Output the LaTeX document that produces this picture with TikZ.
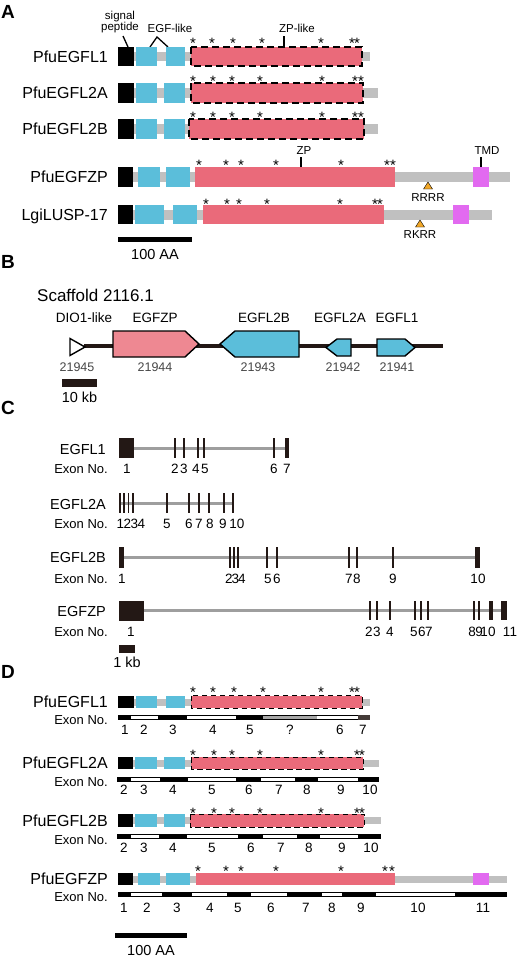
\documentclass[tikz,border=0pt]{standalone}
\usepackage{fontspec}
\setmainfont{Liberation Sans}
\definecolor{egfcyan}{RGB}{91,190,218}
\definecolor{zpred}{RGB}{234,106,122}
\definecolor{genepink}{RGB}{238,136,146}
\definecolor{linkgray}{RGB}{192,192,192}
\definecolor{tmdpink}{RGB}{226,106,240}
\definecolor{furinorange}{RGB}{242,168,40}
\definecolor{exonbrown}{RGB}{35,24,21}
\definecolor{introngray}{RGB}{158,158,158}
\definecolor{idgray}{RGB}{70,70,70}
\definecolor{unkgray}{RGB}{168,168,168}
\usetikzlibrary{positioning}
\newcommand{\fsz}[1]{\fontsize{#1}{#1}\selectfont}

\begin{document}
\begin{tikzpicture}[x=1pt, y=-1pt,
  sp/.style={fill=black},
  egf/.style={fill=egfcyan},
  zp/.style={fill=zpred},
  tmd/.style={fill=tmdpink},
  linker/.style={fill=linkgray},
  exon/.style={fill=exonbrown},
  intron/.style={draw=introngray, line width=3pt},
  dashbox/.style={draw=black, line width=1.1pt, dash pattern=on 7pt off 4pt},
  dashsmall/.style={draw=black, line width=0.9pt, dash pattern=on 5.5pt off 3.5pt},
  leader/.style={draw=black, line width=1.3pt},
  genebox/.style={draw=black, line width=1.4pt, line join=miter},
  cysmark/.style={font=\fsz{15}, inner sep=0pt, anchor=base, yshift=-8.3pt},
  panel/.style={font=\fsz{19}\bfseries, inner sep=0pt, anchor=base, yshift=-6.8pt},
  pname/.style={font=\fsz{16}, inner sep=0pt, anchor=base east, yshift=-5.7pt},
  gname/.style={font=\fsz{14.5}, inner sep=0pt, anchor=base east, yshift=-5.2pt},
  exlbl/.style={font=\fsz{13}, inner sep=0pt, anchor=base east, yshift=-4.7pt},
  exnum/.style={font=\fsz{13.5}, inner sep=0pt, anchor=base, yshift=-4.8pt},
  smalllbl/.style={font=\fsz{11.5}, inner sep=0pt, anchor=base, yshift=-4.1pt},
  glabel/.style={font=\fsz{13.5}, inner sep=0pt, anchor=base, yshift=-4.8pt},
  gid/.style={font=\fsz{12.5}, text=idgray, inner sep=0pt, anchor=base, yshift=-4.5pt},
  sbar/.style={inner sep=0pt, outer sep=0pt},
  sblbl/.style={font=\fsz{14.5}, inner sep=0pt}
]
  \useasboundingbox[fill=white] (0,0) rectangle (520,962);

  % Panel A: domain architecture
  \node[panel] (pa) at (8,12) {A};
  \node[font=\fsz{11.5}, inner sep=0pt, align=center] (sig) at (120,22) {signal\\peptide};
  \node[smalllbl] (egflike) at (170,28) {EGF-like};
  \node[smalllbl] (zplike) at (297,28) {ZP-like};
  \coordinate (sigtop) at (123,36);
  \coordinate (sigfoot) at (128,47);
  \coordinate (egfapex) at (157,37);
  \coordinate (egfleft) at (150,47);
  \coordinate (egfright) at (168,47);
  \coordinate (zptop) at (284,36);
  \coordinate (zpfoot) at (284,47);
  \draw[leader] (sigtop) -- (sigfoot);
  \draw[leader] (egfleft) -- (egfapex) -- (egfright);
  \draw[leader] (zptop) -- (zpfoot);

  % PfuEGFL1
  \node[pname] (a1) at (108,56.5) {PfuEGFL1};
  \fill[linker] (118,52) rectangle (370,61);
  \fill[sp] (118,47) rectangle (134,66);
  \fill[egf] (136,47) rectangle (157,66);
  \fill[egf] (166,47) rectangle (185,66);
  \fill[zp] (191,47) rectangle (362,66);
  \draw[dashbox] (191,47) rectangle (362,66);
  \foreach \x [count=\i] in {193,212,233,262,321,352,357}
    \node[cysmark] (a1c\i) at (\x,40) {*};

  % PfuEGFL2A
  \node[pname] (a2) at (108,93) {PfuEGFL2A};
  \fill[linker] (118,88) rectangle (378,98);
  \fill[sp] (118,83) rectangle (134,103);
  \fill[egf] (136,83) rectangle (157,103);
  \fill[egf] (164,83) rectangle (185,103);
  \fill[zp] (191,83) rectangle (363,103);
  \draw[dashbox] (191,83) rectangle (363,103);
  \foreach \x [count=\i] in {193,213,232,260,322,355,361}
    \node[cysmark] (a2c\i) at (\x,78) {*};

  % PfuEGFL2B
  \node[pname] (a3) at (108,129) {PfuEGFL2B};
  \fill[linker] (118,124) rectangle (378,134);
  \fill[sp] (118,119) rectangle (134,139);
  \fill[egf] (136,119) rectangle (157,139);
  \fill[egf] (164,119) rectangle (185,139);
  \fill[zp] (189,119) rectangle (364,139);
  \draw[dashbox] (189,119) rectangle (364,139);
  \foreach \x [count=\i] in {193,213,232,260,322,355,361}
    \node[cysmark] (a3c\i) at (\x,114) {*};

  % PfuEGFZP
  \node[pname] (a4) at (108,177) {PfuEGFZP};
  \node[smalllbl] (zpl) at (304,150) {ZP};
  \node[smalllbl] (tmdl) at (487,150) {TMD};
  \coordinate (zpt1) at (301,157);
  \coordinate (zpt2) at (301,167);
  \coordinate (tmt1) at (481,157);
  \coordinate (tmt2) at (481,167);
  \draw[leader] (zpt1) -- (zpt2);
  \draw[leader] (tmt1) -- (tmt2);
  \fill[linker] (118,172) rectangle (510,182);
  \fill[sp] (118,167) rectangle (133,187);
  \fill[egf] (138,167) rectangle (160,187);
  \fill[egf] (166,167) rectangle (190,187);
  \fill[zp] (195,167) rectangle (395,187);
  \fill[tmd] (473,167) rectangle (489,187);
  \foreach \x [count=\i] in {199,226,241,276,341,387,393}
    \node[cysmark] (a4c\i) at (\x,162) {*};
  \fill[furinorange, draw=black, line width=0.4pt] (428,182) -- (432.5,189) -- (423.5,189) -- cycle;
  \node[smalllbl] (rrrr) at (428,197) {RRRR};

  % LgiLUSP-17
  \node[pname] (a5) at (108,214.5) {LgiLUSP-17};
  \fill[linker] (118,209.5) rectangle (492,219.5);
  \fill[sp] (118,205) rectangle (133,224);
  \fill[egf] (135,205) rectangle (164,224);
  \fill[egf] (173,205) rectangle (197,224);
  \fill[zp] (203,205) rectangle (384,224);
  \fill[tmd] (453,205) rectangle (469,224);
  \foreach \x [count=\i] in {206,227,239,267,340,375,380}
    \node[cysmark] (a5c\i) at (\x,201) {*};
  \fill[furinorange, draw=black, line width=0.4pt] (420,220) -- (424.5,227) -- (415.5,227) -- cycle;
  \node[smalllbl] (rkrr) at (420,234) {RKRR};

  \node[sbar, fill=black, minimum width=74pt, minimum height=5pt] (aabar) at (155,239.5) {};
  \node[sblbl, below=7pt of aabar] (aalbl) {100 AA};

  % Panel B: scaffold
  \node[panel] (pb) at (8,262) {B};
  \node[font=\fsz{17}, inner sep=0pt, anchor=base west, yshift=-6.1pt] (scaf) at (37,295) {Scaffold 2116.1};
  \draw[exonbrown, line width=3.5pt] (84,346) -- (443,346);
  \draw[genebox, fill=white] (70,338.5) -- (85,347) -- (70,355.5) -- cycle;
  \draw[genebox, fill=genepink] (113,331) -- (185,331) -- (199,344) -- (185,357) -- (113,357) -- cycle;
  \draw[genebox, fill=egfcyan] (220,344) -- (235,331) -- (299,331) -- (299,357) -- (235,357) -- cycle;
  \draw[genebox, fill=egfcyan] (326,347.5) -- (337,339) -- (351,339) -- (351,356) -- (337,356) -- cycle;
  \draw[genebox, fill=egfcyan] (377,339) -- (405,339) -- (415,347.5) -- (405,356) -- (377,356) -- cycle;
  \foreach \x/\g [count=\i] in {84/DIO1-like,155/EGFZP,264/EGFL2B,340/EGFL2A,397/EGFL1}
    \node[glabel] (bg\i) at (\x,318) {\g};
  \foreach \x/\g [count=\i] in {77/21945,155/21944,258/21943,343/21942,397/21941}
    \node[gid] (bid\i) at (\x,367) {\g};
  \node[sbar, fill=exonbrown, minimum width=35pt, minimum height=8pt] (kbbar) at (79.5,383) {};
  \node[sblbl, below=5pt of kbbar] (kblbl) {10 kb};

  % Panel C: exon-intron structure
  \node[panel] (pc) at (8,408) {C};

  % EGFL1
  \node[gname] (c1) at (106,449) {EGFL1};
  \node[exlbl] (c1x) at (108,469) {Exon No.};
  \draw[intron] (134,448) -- (286,448);
  \fill[exon] (119,438) rectangle (134,458);
  \foreach \x/\w in {175/1.4,184/1.4,198/2.8,204/1.4,274/2.8,287/3.6}
    \fill[exon] ({\x-\w/2},438) rectangle ({\x+\w/2},458);
  \foreach \x/\n in {127/1,175/2,184/3,196/4,205/5,274/6,287/7}
    \node[exnum] (c1n\n) at (\x,469) {\n};

  % EGFL2A
  \node[gname] (c2) at (106,504) {EGFL2A};
  \node[exlbl] (c2x) at (108,524) {Exon No.};
  \draw[intron] (119,503) -- (234,503);
  \foreach \x/\w in {120/1.4,124/1.4,128.5/1.4,133/1.8,167/2.8,189/1.4,199/1.4,209/1.4,224/2.8,233/1.4}
    \fill[exon] ({\x-\w/2},493) rectangle ({\x+\w/2},513);
  \foreach \x/\n in {120.5/1,127.5/2,134.5/3,141.5/4,167/5,189/6,199/7,210/8,223/9,237/10}
    \node[exnum] (c2n\n) at (\x,524) {\n};

  % EGFL2B
  \node[gname] (c3) at (106,557) {EGFL2B};
  \node[exlbl] (c3x) at (108,579) {Exon No.};
  \draw[intron] (119,557.5) -- (479,557.5);
  \foreach \x/\w in {121.5/5,230/1.4,234/1.4,238/1.4,267/2.8,277/1.4,349/1.4,357/1.4,393/2.6,477.5/5}
    \fill[exon] ({\x-\w/2},547) rectangle ({\x+\w/2},568);
  \foreach \x/\n in {122/1,229/2,235.5/3,242/4,268/5,277/6,349/7,357/8,393/9,478/10}
    \node[exnum] (c3n\n) at (\x,579) {\n};

  % EGFZP
  \node[gname] (c4) at (106,611) {EGFZP};
  \node[exlbl] (c4x) at (108,632) {Exon No.};
  \draw[intron] (144,610.5) -- (505,610.5);
  \fill[exon] (119,601) rectangle (144,621);
  \foreach \x/\w in {370/1.4,377/1.4,390/1.4,415/1.4,421/1.4,428/1.8,474/1.4,479/1.4,491/3.6,504/6}
    \fill[exon] ({\x-\w/2},601) rectangle ({\x+\w/2},620);
  \foreach \x/\n in {131/1,369/2,377/3,390/4,414/5,422/6,429/7,472/8,479/9,488/10,510/11}
    \node[exnum] (c4n\n) at (\x,632) {\n};

  \node[sbar, fill=exonbrown, minimum width=16pt, minimum height=8pt] (onekb) at (127,649) {};
  \node[sblbl, below=4pt of onekb] (onekblbl) {1 kb};

  % Panel D: exons mapped onto domains
  \node[panel] (pd) at (8,672) {D};

  % PfuEGFL1
  \node[pname] (d1) at (108,701.5) {PfuEGFL1};
  \node[exlbl] (d1x) at (108,720) {Exon No.};
  \fill[linker] (118,698.5) rectangle (370,705.5);
  \fill[sp] (118,695.5) rectangle (134,708);
  \fill[egf] (136,695.5) rectangle (157,708);
  \fill[egf] (166,695.5) rectangle (185,708);
  \fill[zp] (191,695.5) rectangle (362,708);
  \draw[dashsmall] (191,695.5) rectangle (362,708);
  \foreach \x [count=\i] in {193,213,234,263,321,352,357}
    \node[cysmark] (d1c\i) at (\x,689) {*};
  \fill[black] (118,715) rectangle (370,720);
  \foreach \a/\b in {131/158,187/236,317/358}
    \fill[white] (\a,716) rectangle (\b,719);
  \fill[unkgray] (263,716) rectangle (317,719);
  \fill[exonbrown!85] (358,715) rectangle (370,720);
  \foreach \x/\n [count=\i] in {125/1,144/2,173/3,213/4,250/5,290/?,340/6,363/7}
    \node[exnum] (d1n\i) at (\x,730) {\n};

  % PfuEGFL2A
  \node[pname] (d2) at (108,763) {PfuEGFL2A};
  \node[exlbl] (d2x) at (108,782) {Exon No.};
  \fill[linker] (118,760) rectangle (379,767);
  \fill[sp] (118,757) rectangle (133,769);
  \fill[egf] (135,757) rectangle (157,769);
  \fill[egf] (164,757) rectangle (185,769);
  \fill[zp] (191,757) rectangle (363,769);
  \draw[dashsmall] (191,757) rectangle (363,769);
  \foreach \x [count=\i] in {193,214,232,260,321,357,362}
    \node[cysmark] (d2c\i) at (\x,752) {*};
  \fill[black] (117,777) rectangle (379,782);
  \foreach \a/\b in {131/160,188/236,261/295,318/358}
    \fill[white] (\a,778) rectangle (\b,781);
  \foreach \x/\n [count=\i] in {124/2,144/3,173/4,212/5,249/6,279/7,307/8,341/9,370/10}
    \node[exnum] (d2n\i) at (\x,790) {\n};

  % PfuEGFL2B
  \node[pname] (d3) at (108,820.5) {PfuEGFL2B};
  \node[exlbl] (d3x) at (108,840) {Exon No.};
  \fill[linker] (118,817) rectangle (381,824);
  \fill[sp] (118,814) rectangle (133,827);
  \fill[egf] (135,814) rectangle (157,827);
  \fill[egf] (164,814) rectangle (185,827);
  \fill[zp] (190,814) rectangle (364,827);
  \draw[dashsmall] (190,814) rectangle (364,827);
  \foreach \x [count=\i] in {193,214,232,260,321,357,362}
    \node[cysmark] (d3c\i) at (\x,810) {*};
  \fill[black] (117,834) rectangle (381,839);
  \foreach \a/\b in {131/159,187/238,263/297,320/358}
    \fill[white] (\a,835) rectangle (\b,838);
  \foreach \x/\n [count=\i] in {124/2,144/3,173/4,212/5,251/6,281/7,309/8,342/9,371/10}
    \node[exnum] (d3n\i) at (\x,848) {\n};

  % PfuEGFZP
  \node[pname] (d4) at (108,879) {PfuEGFZP};
  \node[exlbl] (d4x) at (108,897) {Exon No.};
  \fill[linker] (118,876) rectangle (507,883);
  \fill[sp] (118,873) rectangle (133,885);
  \fill[egf] (138,873) rectangle (160,885);
  \fill[egf] (166,873) rectangle (190,885);
  \fill[zp] (196,873) rectangle (395,885);
  \fill[tmd] (473,873) rectangle (489,885);
  \foreach \x [count=\i] in {198,226,241,276,341,385,392}
    \node[cysmark] (d4c\i) at (\x,868) {*};
  \fill[black] (118,892) rectangle (507,897);
  \foreach \a/\b in {131/162,192/227,251/287,322/342,376/455}
    \fill[white] (\a,893) rectangle (\b,896);
  \foreach \x/\n [count=\i] in {124/1,147/2,177/3,210/4,238/5,271/6,306/7,332/8,361/9,418/10,483/11}
    \node[exnum] (d4n\i) at (\x,908) {\n};

  \node[sbar, fill=black, minimum width=72pt, minimum height=5pt] (aabar2) at (151,935.5) {};
  \node[sblbl, below=7pt of aabar2] (aalbl2) {100 AA};
\end{tikzpicture}
\end{document}
